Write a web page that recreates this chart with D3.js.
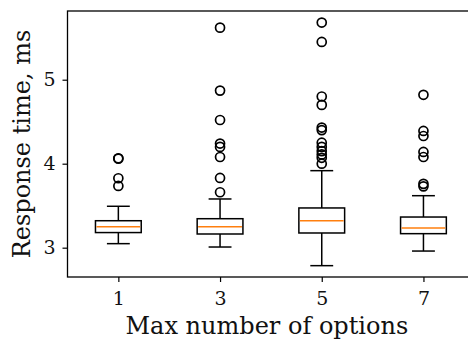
<!DOCTYPE html>
<html>
<head>
<meta charset="utf-8">
<script src="https://cdn.jsdelivr.net/npm/d3@7"></script>
<style>
  html, body { margin: 0; padding: 0; background: #fff; }
  svg { display: block; }
</style>
</head>
<body>
<div id="chart"></div>
<script>
// values
const categories = ['1', '3', '5', '7'];
const q1 = [3.18, 3.163, 3.175, 3.167];
const medians = [3.25, 3.25, 3.321, 3.235];
const q3 = [3.321, 3.345, 3.473, 3.365];
const whiskerLo = [3.048, 3.008, 2.786, 2.96];
const whiskerHi = [3.493, 3.58, 3.917, 3.619];
const outliers = [
    [4.065, 4.06, 3.827, 3.735],
    [5.62, 4.87, 4.52, 4.24, 4.2, 4.08, 3.83, 3.66],
    [5.68, 5.45, 4.8, 4.7, 4.43, 4.4, 4.25, 4.2, 4.15, 4.11, 4.07, 4.0],
    [4.82, 4.39, 4.33, 4.14, 4.08, 3.76, 3.73]
];
const yTicks = [3, 4, 5];

const width = 468, height = 342;
const plot = { left: 67.5, right: 474.3, top: 11, bottom: 277 };
const font = 'DejaVu Serif, serif';

const svg = d3.select('#chart').append('svg')
    .attr('width', width)
    .attr('height', height);

const x = d3.scaleLinear().domain([0.5, 4.5]).range([plot.left, plot.right]);
const y = d3.scaleLinear().domain([2.651, 5.818]).range([plot.bottom, plot.top]);

const boxW = 0.45, capW = 0.225;

const boxes = categories.map((c, i) => ({
    pos: i + 1, q1: q1[i], med: medians[i], q3: q3[i],
    lo: whiskerLo[i], hi: whiskerHi[i], out: outliers[i]
}));

const g = svg.append('g')
    .attr('fill', 'none')
    .attr('stroke', '#000')
    .attr('stroke-width', 1.5);

const box = g.selectAll('g.box').data(boxes).join('g').attr('class', 'box');

// whiskers
box.append('line')
    .attr('x1', d => x(d.pos)).attr('x2', d => x(d.pos))
    .attr('y1', d => y(d.q3)).attr('y2', d => y(d.hi));
box.append('line')
    .attr('x1', d => x(d.pos)).attr('x2', d => x(d.pos))
    .attr('y1', d => y(d.q1)).attr('y2', d => y(d.lo));
// caps
box.append('line')
    .attr('x1', d => x(d.pos - capW / 2)).attr('x2', d => x(d.pos + capW / 2))
    .attr('y1', d => y(d.hi)).attr('y2', d => y(d.hi));
box.append('line')
    .attr('x1', d => x(d.pos - capW / 2)).attr('x2', d => x(d.pos + capW / 2))
    .attr('y1', d => y(d.lo)).attr('y2', d => y(d.lo));
// box
box.append('rect')
    .attr('x', d => x(d.pos - boxW / 2))
    .attr('width', d => x(d.pos + boxW / 2) - x(d.pos - boxW / 2))
    .attr('y', d => y(d.q3))
    .attr('height', d => y(d.q1) - y(d.q3));
// median
box.append('line')
    .attr('stroke', '#ff7f0e')
    .attr('x1', d => x(d.pos - boxW / 2) + 1).attr('x2', d => x(d.pos + boxW / 2) - 1)
    .attr('y1', d => y(d.med)).attr('y2', d => y(d.med));
// fliers
box.selectAll('circle')
    .data(d => d.out.map(v => ({ pos: d.pos, v: v })))
    .join('circle')
    .attr('cx', d => x(d.pos))
    .attr('cy', d => y(d.v))
    .attr('r', 4.5)
    .attr('stroke-width', 1.7);

// frame
svg.append('rect')
    .attr('x', plot.left).attr('y', plot.top)
    .attr('width', plot.right - plot.left)
    .attr('height', plot.bottom - plot.top)
    .attr('fill', 'none')
    .attr('stroke', '#000')
    .attr('stroke-width', 1.3);

// axes
const xAxis = svg.append('g')
    .attr('transform', `translate(0, ${plot.bottom})`)
    .call(d3.axisBottom(x).tickValues([1, 2, 3, 4])
        .tickFormat((d, i) => categories[i])
        .tickSize(5).tickSizeOuter(0).tickPadding(10));

const yAxis = svg.append('g')
    .attr('transform', `translate(${plot.left}, 0)`)
    .call(d3.axisLeft(y).tickValues(yTicks).tickFormat(d3.format('d'))
        .tickSize(5).tickSizeOuter(0).tickPadding(7));

[xAxis, yAxis].forEach(a => {
    a.select('.domain').remove();
    a.selectAll('.tick line').attr('stroke', '#000').attr('stroke-width', 1.2);
    a.selectAll('.tick text')
        .attr('fill', '#111')
        .style('font-family', font)
        .style('font-size', '19px');
});

// axis titles
svg.append('text')
    .attr('x', (plot.left + plot.right) / 2 - 4)
    .attr('y', 334)
    .attr('text-anchor', 'middle')
    .style('font-family', font)
    .style('font-size', '24px')
    .attr('fill', '#111')
    .text('Max number of options');

svg.append('text')
    .attr('transform', `translate(30, ${(plot.top + plot.bottom) / 2}) rotate(-90)`)
    .attr('text-anchor', 'middle')
    .style('font-family', font)
    .style('font-size', '24px')
    .attr('fill', '#111')
    .text('Response time, ms');
</script>
</body>
</html>
